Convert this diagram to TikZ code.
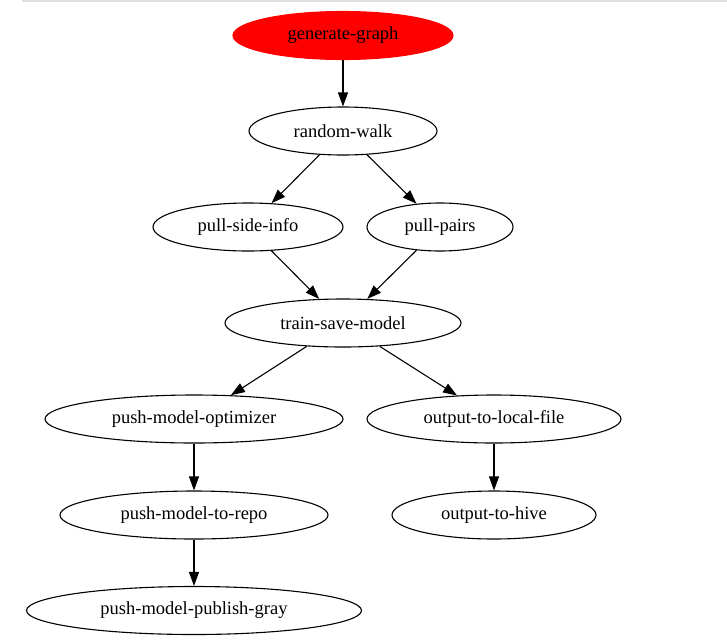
\documentclass[tikz,border=0pt]{standalone}
\usepackage{fontspec}
\setmainfont{Liberation Serif}
\usepackage{xcolor}
\usetikzlibrary{positioning, arrows.meta, shapes.geometric}

\begin{document}
\begin{tikzpicture}[
      x=1pt, y=-1pt,
      font=\fontsize{18.5}{20}\selectfont,
      task/.style={ellipse, draw=black, line width=1.1pt, inner sep=0pt,
                   minimum height=48pt, align=center},
      root/.style={task, draw=red, fill=red},
      arr/.style={-{Triangle[length=14pt, width=10pt]}, line width=1.1pt, draw=black}]
    \useasboundingbox (0,0) rectangle (727,643);
    \draw[line width=2pt, draw=gray!25] (22,1) -- (727,1);
    \node[root, minimum width=220pt] (gen)  at (343,35.5)  {generate-graph};
    \node[task, minimum width=188pt] (walk) at (343,131)   {random-walk};
    \node[task, minimum width=190pt] (side) at (248,227)   {pull-side-info};
    \node[task, minimum width=146pt] (pair) at (440,227)   {pull-pairs};
    \node[task, minimum width=236pt] (train) at (343,323)  {train-save-model};
    \node[task, minimum width=298pt] (opt)  at (194,419)   {push-model-optimizer};
    \node[task, minimum width=254pt] (local) at (494,419)  {output-to-local-file};
    \node[task, minimum width=268pt] (repo) at (194,515)   {push-model-to-repo};
    \node[task, minimum width=204pt] (hive) at (494,515)   {output-to-hive};
    \node[task, minimum width=335pt] (gray) at (194,610.5) {push-model-publish-gray};
    \foreach \a/\b in {gen/walk, walk/side, walk/pair, side/train, pair/train,
                       train/opt, train/local, opt/repo, local/hive, repo/gray}{
      \draw[arr] (\a) -- (\b);
    }
  \end{tikzpicture}
\end{document}
